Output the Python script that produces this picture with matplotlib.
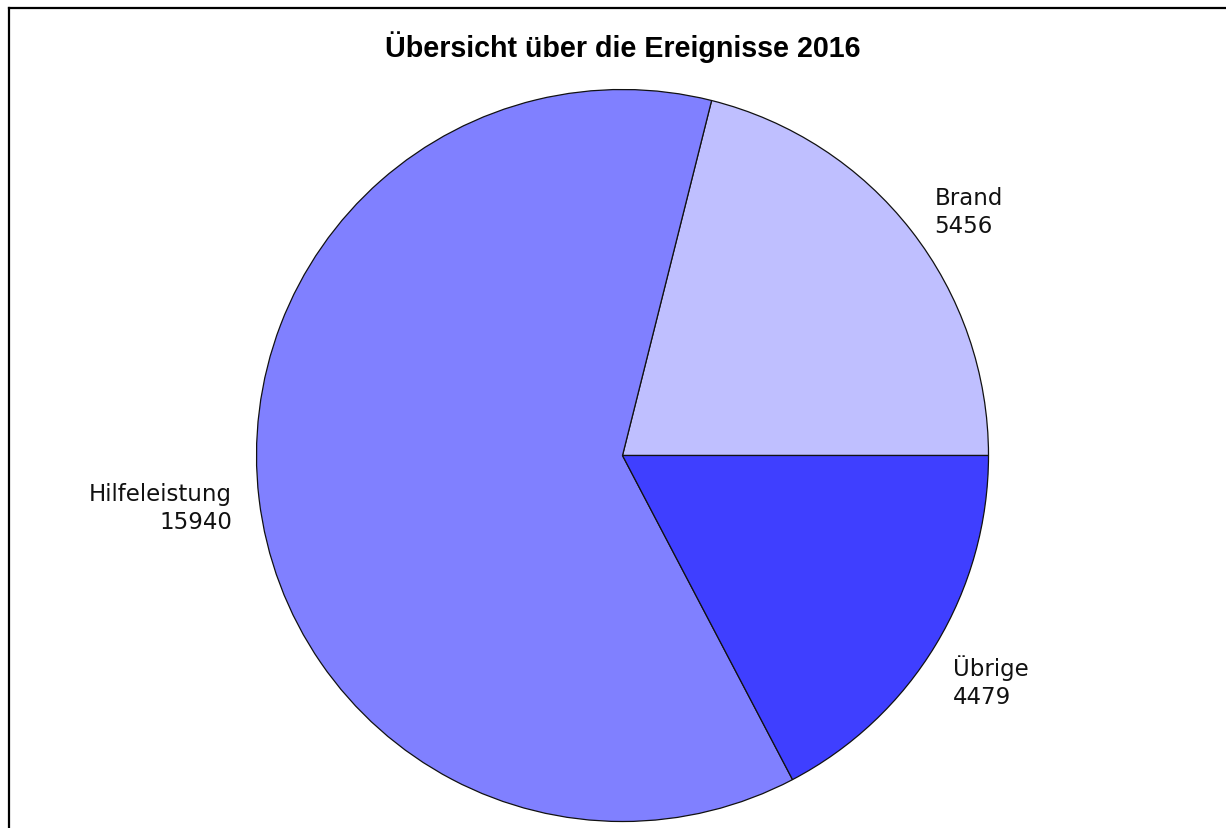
#! /usr/bin/env python

import matplotlib
matplotlib.use('Agg')
import matplotlib.pyplot as plt
from matplotlib.lines import Line2D

# Data
categories = ['Brand', 'Hilfeleistung', 'Übrige']
values = [5456, 15940, 4479]
colors = ['#BFBFFF', '#8080FF', '#3F3FFF']
title = 'Übersicht über die Ereignisse 2016'

W, H = 1226, 829


def main():
    fig = plt.figure(figsize=(W / 100, H / 100), dpi=100)
    fig.patch.set_facecolor('white')

    # Axes placed so the pie sits at (622, 456) px with radius 366 px
    r = 366
    pad = 1.02
    cx, cy = 622.5, 456.5
    side = 2 * r * pad
    ax = fig.add_axes([(cx - side / 2) / W, (H - cy - side / 2) / H,
                       side / W, side / H])

    labels = [f'{c}\n{v}' for c, v in zip(categories, values)]
    wedges, texts = ax.pie(values, labels=labels, colors=colors,
                           startangle=0, counterclock=True,
                           labeldistance=1.085,
                           wedgeprops=dict(edgecolor='#111111', linewidth=0.9),
                           textprops=dict(family='DejaVu Sans', fontsize=16.5,
                                          color='#111111', linespacing=1.3))
    # small nudges (in pixels) to match the reference label placement
    nudges = [(-1, 0), (4, -5), (-9, -20)]
    for t, (dx, dy) in zip(texts, nudges):
        x, y = t.get_position()
        t.set_position((x + dx / r, y + dy / r))

    ax.set_xlim(-pad, pad)
    ax.set_ylim(-pad, pad)
    ax.set_aspect('equal')
    ax.axis('off')

    # Title
    fig.text(cx / W, 1 - 47 / H, title, ha='center', va='center',
             family='Liberation Sans', fontweight='bold', fontsize=20.6)

    # Frame: only the top and left edges are visible
    fig.add_artist(Line2D([9 / W, 1], [1 - 9 / H, 1 - 9 / H],
                          transform=fig.transFigure, color='black', lw=1.6))
    fig.add_artist(Line2D([9 / W, 9 / W], [0, 1 - 9 / H],
                          transform=fig.transFigure, color='black', lw=1.6))

    fig.savefig('out.png', dpi=100)


main()
